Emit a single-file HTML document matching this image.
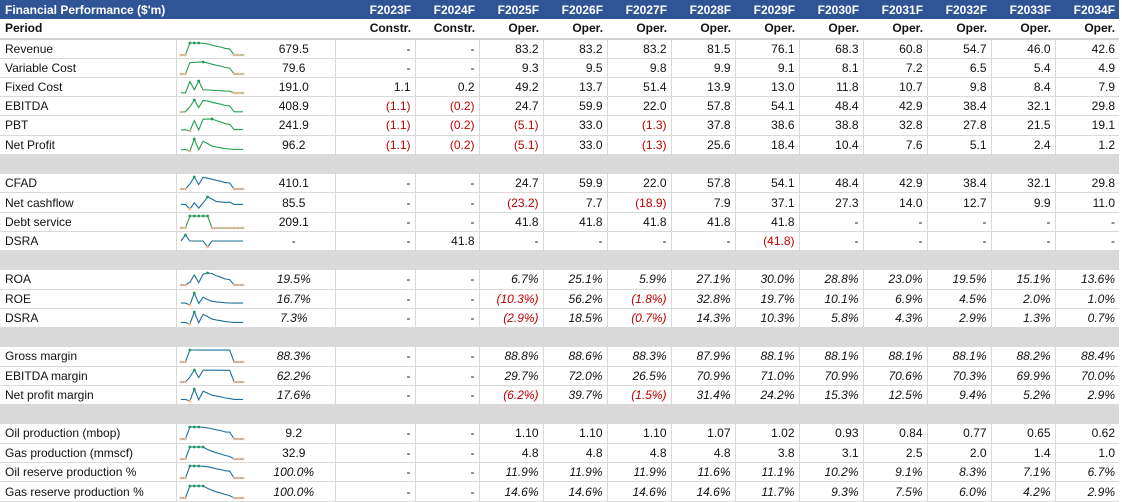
<!DOCTYPE html>
<html><head><meta charset="utf-8">
<style>
html,body{margin:0;padding:0;background:#fff;}
body{width:1122px;height:501px;overflow:hidden;font-family:"Liberation Sans",sans-serif;font-size:12px;color:#111;}
table{border-collapse:collapse;table-layout:fixed;width:1119px;}
tr{height:19.27px;}
td{height:19.27px;padding:0 4px;box-sizing:border-box;white-space:nowrap;overflow:hidden;line-height:14px;}
tr.hd td{background:#2f5597;color:#fff;font-weight:bold;text-align:right;}
tr.hd td.l{text-align:left;padding-left:5px;}
tr.pd td{font-weight:bold;text-align:right;border-bottom:2px solid #d0d0d0;}
tr.pd td.l{text-align:left;padding-left:5px;}
tr.gap td{background:#d9d9d9;}
tr.d td{border-bottom:1px solid #d9d9d9;text-align:right;border-left:1px solid #d9d9d9;}
tr.d td.l{text-align:left;padding-left:5px;border-left:none;border-right:1px solid #d9d9d9;}
tr.d td.s{padding:0;border-left:none;}
tr.d td.v{text-align:center;border-left:none;}
.r{color:#c00000;}
tr.p td.n,tr.p td.v{font-style:italic;}
svg{display:block;}
</style></head><body>
<table>
<colgroup><col style="width:176px"><col style="width:77px"><col style="width:82px"><col style="width:80px"><col span="11" style="width:64px"></colgroup>
<tr class="hd"><td class="l" colspan="3">Financial Performance ($'m)</td><td>F2023F</td><td>F2024F</td><td>F2025F</td><td>F2026F</td><td>F2027F</td><td>F2028F</td><td>F2029F</td><td>F2030F</td><td>F2031F</td><td>F2032F</td><td>F2033F</td><td>F2034F</td></tr>
<tr class="pd"><td class="l" colspan="3">Period</td><td>Constr.</td><td>Constr.</td><td>Oper.</td><td>Oper.</td><td>Oper.</td><td>Oper.</td><td>Oper.</td><td>Oper.</td><td>Oper.</td><td>Oper.</td><td>Oper.</td><td>Oper.</td></tr>

<tr class="d"><td class="l">Revenue</td><td class="s" data-k="revenue" data-c="g"></td><td class="v">679.5</td><td class="n">-</td><td class="n">-</td><td class="n">83.2</td><td class="n">83.2</td><td class="n">83.2</td><td class="n">81.5</td><td class="n">76.1</td><td class="n">68.3</td><td class="n">60.8</td><td class="n">54.7</td><td class="n">46.0</td><td class="n">42.6</td></tr>
<tr class="d"><td class="l">Variable Cost</td><td class="s" data-k="variable" data-c="g"></td><td class="v">79.6</td><td class="n">-</td><td class="n">-</td><td class="n">9.3</td><td class="n">9.5</td><td class="n">9.8</td><td class="n">9.9</td><td class="n">9.1</td><td class="n">8.1</td><td class="n">7.2</td><td class="n">6.5</td><td class="n">5.4</td><td class="n">4.9</td></tr>
<tr class="d"><td class="l">Fixed Cost</td><td class="s" data-k="fixed" data-c="g"></td><td class="v">191.0</td><td class="n">1.1</td><td class="n">0.2</td><td class="n">49.2</td><td class="n">13.7</td><td class="n">51.4</td><td class="n">13.9</td><td class="n">13.0</td><td class="n">11.8</td><td class="n">10.7</td><td class="n">9.8</td><td class="n">8.4</td><td class="n">7.9</td></tr>
<tr class="d"><td class="l">EBITDA</td><td class="s" data-k="ebitda" data-c="g"></td><td class="v">408.9</td><td class="n r">(1.1)</td><td class="n r">(0.2)</td><td class="n">24.7</td><td class="n">59.9</td><td class="n">22.0</td><td class="n">57.8</td><td class="n">54.1</td><td class="n">48.4</td><td class="n">42.9</td><td class="n">38.4</td><td class="n">32.1</td><td class="n">29.8</td></tr>
<tr class="d"><td class="l">PBT</td><td class="s" data-k="pbt" data-c="g"></td><td class="v">241.9</td><td class="n r">(1.1)</td><td class="n r">(0.2)</td><td class="n r">(5.1)</td><td class="n">33.0</td><td class="n r">(1.3)</td><td class="n">37.8</td><td class="n">38.6</td><td class="n">38.8</td><td class="n">32.8</td><td class="n">27.8</td><td class="n">21.5</td><td class="n">19.1</td></tr>
<tr class="d"><td class="l">Net Profit</td><td class="s" data-k="net" data-c="g"></td><td class="v">96.2</td><td class="n r">(1.1)</td><td class="n r">(0.2)</td><td class="n r">(5.1)</td><td class="n">33.0</td><td class="n r">(1.3)</td><td class="n">25.6</td><td class="n">18.4</td><td class="n">10.4</td><td class="n">7.6</td><td class="n">5.1</td><td class="n">2.4</td><td class="n">1.2</td></tr>
<tr class="gap"><td colspan="15"></td></tr>

<tr class="d"><td class="l">CFAD</td><td class="s" data-k="cfad" data-c="b"></td><td class="v">410.1</td><td class="n">-</td><td class="n">-</td><td class="n">24.7</td><td class="n">59.9</td><td class="n">22.0</td><td class="n">57.8</td><td class="n">54.1</td><td class="n">48.4</td><td class="n">42.9</td><td class="n">38.4</td><td class="n">32.1</td><td class="n">29.8</td></tr>
<tr class="d"><td class="l">Net cashflow</td><td class="s" data-k="netcash" data-c="b"></td><td class="v">85.5</td><td class="n">-</td><td class="n">-</td><td class="n r">(23.2)</td><td class="n">7.7</td><td class="n r">(18.9)</td><td class="n">7.9</td><td class="n">37.1</td><td class="n">27.3</td><td class="n">14.0</td><td class="n">12.7</td><td class="n">9.9</td><td class="n">11.0</td></tr>
<tr class="d"><td class="l">Debt service</td><td class="s" data-k="debt" data-c="g"></td><td class="v">209.1</td><td class="n">-</td><td class="n">-</td><td class="n">41.8</td><td class="n">41.8</td><td class="n">41.8</td><td class="n">41.8</td><td class="n">41.8</td><td class="n">-</td><td class="n">-</td><td class="n">-</td><td class="n">-</td><td class="n">-</td></tr>
<tr class="d"><td class="l">DSRA</td><td class="s" data-k="dsra" data-c="b"></td><td class="v">-</td><td class="n">-</td><td class="n">41.8</td><td class="n">-</td><td class="n">-</td><td class="n">-</td><td class="n">-</td><td class="n r">(41.8)</td><td class="n">-</td><td class="n">-</td><td class="n">-</td><td class="n">-</td><td class="n">-</td></tr>
<tr class="gap"><td colspan="15"></td></tr>

<tr class="d p"><td class="l">ROA</td><td class="s" data-k="roa" data-c="b"></td><td class="v">19.5%</td><td>-</td><td>-</td><td class="n">6.7%</td><td class="n">25.1%</td><td class="n">5.9%</td><td class="n">27.1%</td><td class="n">30.0%</td><td class="n">28.8%</td><td class="n">23.0%</td><td class="n">19.5%</td><td class="n">15.1%</td><td class="n">13.6%</td></tr>
<tr class="d p"><td class="l">ROE</td><td class="s" data-k="roe" data-c="b"></td><td class="v">16.7%</td><td>-</td><td>-</td><td class="n r">(10.3%)</td><td class="n">56.2%</td><td class="n r">(1.8%)</td><td class="n">32.8%</td><td class="n">19.7%</td><td class="n">10.1%</td><td class="n">6.9%</td><td class="n">4.5%</td><td class="n">2.0%</td><td class="n">1.0%</td></tr>
<tr class="d p"><td class="l">DSRA</td><td class="s" data-k="dsrap" data-c="b"></td><td class="v">7.3%</td><td>-</td><td>-</td><td class="n r">(2.9%)</td><td class="n">18.5%</td><td class="n r">(0.7%)</td><td class="n">14.3%</td><td class="n">10.3%</td><td class="n">5.8%</td><td class="n">4.3%</td><td class="n">2.9%</td><td class="n">1.3%</td><td class="n">0.7%</td></tr>
<tr class="gap"><td colspan="15"></td></tr>

<tr class="d p"><td class="l">Gross margin</td><td class="s" data-k="gross" data-c="b"></td><td class="v">88.3%</td><td>-</td><td>-</td><td class="n">88.8%</td><td class="n">88.6%</td><td class="n">88.3%</td><td class="n">87.9%</td><td class="n">88.1%</td><td class="n">88.1%</td><td class="n">88.1%</td><td class="n">88.1%</td><td class="n">88.2%</td><td class="n">88.4%</td></tr>
<tr class="d p"><td class="l">EBITDA margin</td><td class="s" data-k="ebitdam" data-c="b"></td><td class="v">62.2%</td><td>-</td><td>-</td><td class="n">29.7%</td><td class="n">72.0%</td><td class="n">26.5%</td><td class="n">70.9%</td><td class="n">71.0%</td><td class="n">70.9%</td><td class="n">70.6%</td><td class="n">70.3%</td><td class="n">69.9%</td><td class="n">70.0%</td></tr>
<tr class="d p"><td class="l">Net profit margin</td><td class="s" data-k="npm" data-c="b"></td><td class="v">17.6%</td><td>-</td><td>-</td><td class="n r">(6.2%)</td><td class="n">39.7%</td><td class="n r">(1.5%)</td><td class="n">31.4%</td><td class="n">24.2%</td><td class="n">15.3%</td><td class="n">12.5%</td><td class="n">9.4%</td><td class="n">5.2%</td><td class="n">2.9%</td></tr>
<tr class="gap"><td colspan="15"></td></tr>

<tr class="d"><td class="l">Oil production (mbop)</td><td class="s" data-k="oil" data-c="b"></td><td class="v">9.2</td><td>-</td><td>-</td><td class="n">1.10</td><td class="n">1.10</td><td class="n">1.10</td><td class="n">1.07</td><td class="n">1.02</td><td class="n">0.93</td><td class="n">0.84</td><td class="n">0.77</td><td class="n">0.65</td><td class="n">0.62</td></tr>
<tr class="d"><td class="l">Gas production (mmscf)</td><td class="s" data-k="gas" data-c="b"></td><td class="v">32.9</td><td>-</td><td>-</td><td class="n">4.8</td><td class="n">4.8</td><td class="n">4.8</td><td class="n">4.8</td><td class="n">3.8</td><td class="n">3.1</td><td class="n">2.5</td><td class="n">2.0</td><td class="n">1.4</td><td class="n">1.0</td></tr>
<tr class="d p"><td class="l">Oil reserve production %</td><td class="s" data-k="oilres" data-c="b"></td><td class="v">100.0%</td><td>-</td><td>-</td><td class="n">11.9%</td><td class="n">11.9%</td><td class="n">11.9%</td><td class="n">11.6%</td><td class="n">11.1%</td><td class="n">10.2%</td><td class="n">9.1%</td><td class="n">8.3%</td><td class="n">7.1%</td><td class="n">6.7%</td></tr>
<tr class="d p"><td class="l">Gas reserve production %</td><td class="s" data-k="gasres" data-c="b"></td><td class="v">100.0%</td><td>-</td><td>-</td><td class="n">14.6%</td><td class="n">14.6%</td><td class="n">14.6%</td><td class="n">14.6%</td><td class="n">11.7%</td><td class="n">9.3%</td><td class="n">7.5%</td><td class="n">6.0%</td><td class="n">4.2%</td><td class="n">2.9%</td></tr>
</table>
<script>
const years = [2023,2024,2025,2026,2027,2028,2029,2030,2031,2032,2033,2034,2035,2036,2037];
const revenue = [0,0,83.2,83.2,83.2,81.5,76.1,68.3,60.8,54.7,46.0,42.6,0,0,0];
const variable = [0,0,9.3,9.5,9.8,9.9,9.1,8.1,7.2,6.5,5.4,4.9,0,0,0];
const fixed = [1.1,0.2,49.2,13.7,51.4,13.9,13.0,11.8,10.7,9.8,8.4,7.9,0,0,0];
const ebitda = [-1.1,-0.2,24.7,59.9,22.0,57.8,54.1,48.4,42.9,38.4,32.1,29.8,0,0,0];
const pbt = [-1.1,-0.2,-5.1,33.0,-1.3,37.8,38.6,38.8,32.8,27.8,21.5,19.1,0,0,0];
const net = [-1.1,-0.2,-5.1,33.0,-1.3,25.6,18.4,10.4,7.6,5.1,2.4,1.2,0,0,0];
const cfad = [0,0,24.7,59.9,22.0,57.8,54.1,48.4,42.9,38.4,32.1,29.8,0,0,0];
const netcash = [0,0,-23.2,7.7,-18.9,7.9,37.1,27.3,14.0,12.7,9.9,11.0,0,0,0];
const debt = [0,0,41.8,41.8,41.8,41.8,41.8,0,0,0,0,0,0,0,0];
const dsra = [0,41.8,0,0,0,0,-41.8,0,0,0,0,0,0,0,0];
const roa = [0,0,6.7,25.1,5.9,27.1,30.0,28.8,23.0,19.5,15.1,13.6,0,0,0];
const roe = [0,0,-10.3,56.2,-1.8,32.8,19.7,10.1,6.9,4.5,2.0,1.0,0,0,0];
const dsrap = [0,0,-2.9,18.5,-0.7,14.3,10.3,5.8,4.3,2.9,1.3,0.7,0,0,0];
const gross = [0,0,88.8,88.6,88.3,87.9,88.1,88.1,88.1,88.1,88.2,88.4,0,0,0];
const ebitdam = [0,0,29.7,72.0,26.5,70.9,71.0,70.9,70.6,70.3,69.9,70.0,0,0,0];
const npm = [0,0,-6.2,39.7,-1.5,31.4,24.2,15.3,12.5,9.4,5.2,2.9,0,0,0];
const oil = [0,0,1.10,1.10,1.10,1.07,1.02,0.93,0.84,0.77,0.65,0.62,0,0,0];
const gas = [0,0,4.8,4.8,4.8,4.8,3.8,3.1,2.5,2.0,1.4,1.0,0,0,0];
const oilres = [0,0,11.9,11.9,11.9,11.6,11.1,10.2,9.1,8.3,7.1,6.7,0,0,0];
const gasres = [0,0,14.6,14.6,14.6,14.6,11.7,9.3,7.5,6.0,4.2,2.9,0,0,0];
const series = {revenue,variable,fixed,ebitda,pbt,net,cfad,netcash,debt,dsra,roa,roe,dsrap,gross,ebitdam,npm,oil,gas,oilres,gasres};
const NS = 'http://www.w3.org/2000/svg';
document.querySelectorAll('td.s').forEach(td => {
  const vals = series[td.dataset.k];
  const col = td.dataset.c === 'g' ? '#22a050' : '#1f6f9a';
  const W = 77, H = 18, x0 = 4, x1 = 66, yT = 3, yB = 15;
  const mx = Math.max(...vals), mn = Math.min(...vals);
  const xs = i => x0 + (x1 - x0) * i / (vals.length - 1);
  const ys = v => mx === mn ? (yT + yB) / 2 : yB - (v - mn) / (mx - mn) * (yB - yT);
  const svg = document.createElementNS(NS, 'svg');
  svg.setAttribute('width', W); svg.setAttribute('height', H);
  
  
  const pl = document.createElementNS(NS, 'polyline');
  pl.setAttribute('points', vals.map((v, i) => xs(i).toFixed(1) + ',' + ys(v).toFixed(1)).join(' '));
  pl.setAttribute('fill', 'none'); pl.setAttribute('stroke', col); pl.setAttribute('stroke-width', '1.1');
  
  
  svg.appendChild(pl);
  vals.forEach((v, i) => {
    if (v !== mx && v !== mn) return;
    const c = document.createElementNS(NS, 'circle');
    c.setAttribute('cx', xs(i)); c.setAttribute('cy', ys(v)); c.setAttribute('r', 1.4);
    c.setAttribute('fill', v === mx ? '#1a9a5a' : '#f0b48c');
    
    
    svg.appendChild(c);
  });
  td.appendChild(svg);
});
</script>
</body></html>
